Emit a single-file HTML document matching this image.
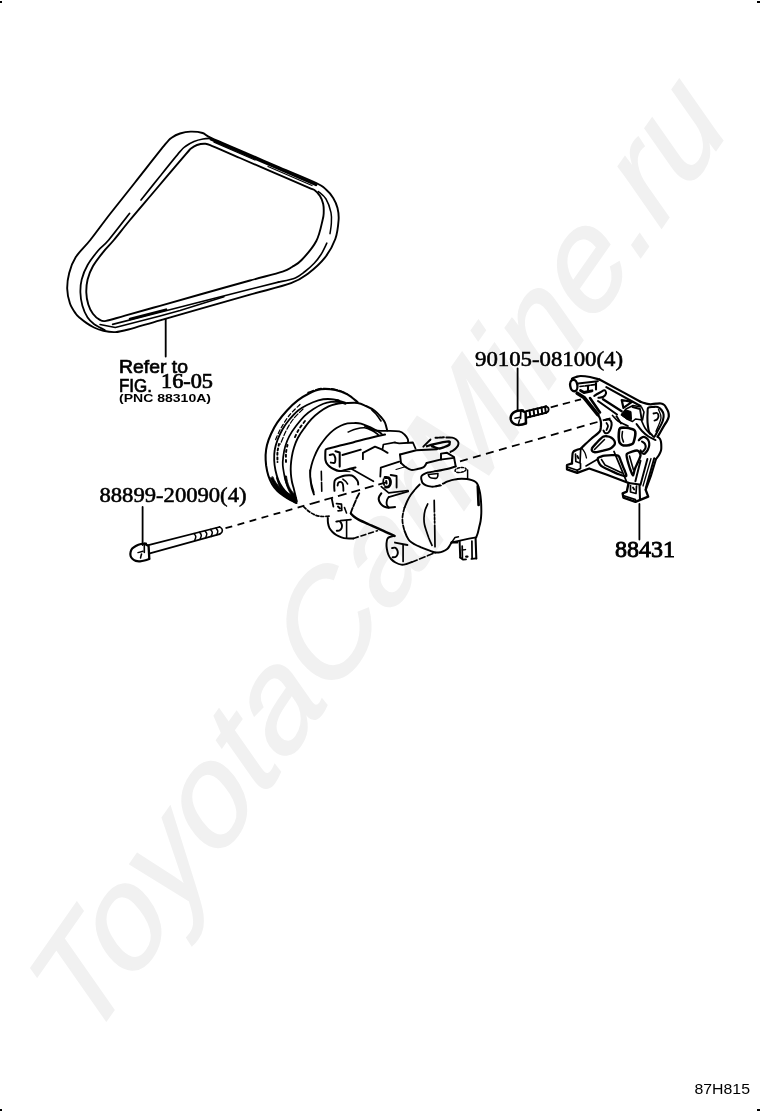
<!DOCTYPE html>
<html>
<head>
<meta charset="utf-8">
<title>87H815</title>
<style>
html,body{margin:0;padding:0;background:#fff;}
body{width:760px;height:1112px;overflow:hidden;position:relative;font-family:"Liberation Sans",sans-serif;}
svg{position:absolute;left:0;top:0;display:block;}
.wm{font-family:"Liberation Sans",sans-serif;font-style:italic;font-size:141.7px;fill:#f1f1f1;stroke:#f1f1f1;stroke-width:1.6px;stroke-linejoin:miter;}
.sans{font-family:"Liberation Sans",sans-serif;fill:#000;}
.serif{font-family:"Liberation Serif",serif;fill:#000;}
.ln{fill:none;stroke:#000;stroke-width:1.3;stroke-linecap:round;stroke-linejoin:round;}
</style>
</head>
<body>
<svg width="760" height="1112" viewBox="0 0 760 1112">
<rect x="0" y="0" width="760" height="1112" fill="#ffffff"/>
<!-- watermark -->
<g id="wm">
<text class="wm" transform="translate(89.5,1044.8) rotate(-55) skewX(-9) scale(1,0.945)" x="0" y="0">ToyotaCarMine.ru</text>
</g>
<!-- labels -->
<g id="labels" style="filter:grayscale(1)">
<text class="sans" x="119" y="373" font-size="19" textLength="69" lengthAdjust="spacingAndGlyphs" stroke="#000" stroke-width="0.7">Refer to</text>
<text class="sans" x="119" y="391.5" font-size="19" textLength="33" lengthAdjust="spacingAndGlyphs" stroke="#000" stroke-width="0.7">FIG.</text>
<text class="serif" x="161" y="388" font-size="20" textLength="52" lengthAdjust="spacingAndGlyphs" stroke="#000" stroke-width="0.7">16-05</text>
<text class="sans" x="119" y="402" font-size="11.5" font-weight="bold" textLength="92" lengthAdjust="spacingAndGlyphs">(PNC 88310A)</text>
<text class="serif" x="475" y="365.5" font-size="20.4" textLength="148" lengthAdjust="spacingAndGlyphs" stroke="#000" stroke-width="0.55">90105-08100(4)</text>
<text class="serif" x="99.5" y="502.3" font-size="20.4" textLength="147" lengthAdjust="spacingAndGlyphs" stroke="#000" stroke-width="0.55">88899-20090(4)</text>
<text class="serif" x="615" y="556.7" font-size="24" textLength="60" lengthAdjust="spacingAndGlyphs" stroke="#000" stroke-width="0.9">88431</text>
<text class="sans" x="694.5" y="1093.8" font-size="15" textLength="55.5" lengthAdjust="spacingAndGlyphs">87H815</text>
</g>
<!-- leaders -->
<g id="leaders" class="ln" style="stroke-width:1.8">
<path d="M517.6 368.5V410"/>
<path d="M142.6 507V545"/>
<path d="M639.4 504V539.5"/>
</g>
<!-- art -->
<g id="art" class="ln">
<!--ART1-->
<path d="M165.3 144.2C171.5 136.7 169.6 139.3 172.0 137.5C174.4 135.7 176.9 134.5 180.0 133.5C183.1 132.5 186.7 131.7 190.5 131.6C194.3 131.5 199.2 131.9 202.6 133.0C206.0 134.1 204.8 135.0 211.0 137.9C217.2 140.8 228.5 145.5 240.0 150.4C251.5 155.3 267.3 162.1 280.0 167.6C292.7 173.1 308.6 179.5 316.3 183.2C324.0 186.8 323.2 187.1 326.0 189.5C328.8 191.9 331.3 194.8 333.2 197.9C335.1 201.0 336.6 204.3 337.5 208.0C338.4 211.7 339.0 214.8 338.6 220.0C338.2 225.2 337.6 232.7 335.3 239.0C333.0 245.3 329.3 252.1 324.7 257.9C320.1 263.7 313.5 269.5 307.9 273.7C302.3 277.9 300.6 279.7 291.0 283.2C281.4 286.7 265.2 290.4 250.0 294.7C234.8 299.0 215.0 304.6 200.0 308.9C185.0 313.2 171.9 316.9 160.0 320.3C148.1 323.7 135.8 327.5 128.4 329.5C121.0 331.5 119.5 331.9 115.3 332.1C111.1 332.3 107.0 331.6 103.4 330.8C99.9 330.0 96.8 328.8 94.0 327.5C91.2 326.2 88.6 324.5 86.3 322.9C84.0 321.3 81.8 319.5 80.0 318.0C78.2 316.5 77.5 316.2 75.8 313.7C74.1 311.2 71.3 307.4 69.9 303.2C68.5 299.0 67.3 293.8 67.2 288.7C67.1 283.6 67.8 278.2 69.2 272.9C70.6 267.6 72.3 262.6 75.8 257.1C79.3 251.6 84.6 247.2 90.3 240.0C96.0 232.8 102.5 223.6 110.0 214.0C117.5 204.4 125.8 194.1 135.0 182.5C144.2 170.9 159.1 151.7 165.3 144.2Z" stroke-width="1.90"/>
<path d="M186.3 153.7C192.3 146.7 189.2 149.9 191.0 148.5C192.8 147.1 194.6 145.8 197.0 145.0C199.4 144.2 202.6 143.6 205.3 143.8C208.0 144.0 207.2 143.9 213.0 146.3C218.8 148.7 229.7 153.5 240.0 158.0C250.3 162.5 263.7 168.3 275.0 173.2C286.3 178.1 301.3 184.5 308.0 187.4C314.7 190.3 313.0 189.1 315.0 190.5C317.0 191.9 318.6 193.8 320.0 196.0C321.4 198.2 322.6 201.2 323.2 204.0C323.8 206.8 323.8 209.9 323.7 212.6C323.6 215.3 323.8 215.3 322.6 220.0C321.4 224.7 319.8 234.3 316.3 241.0C312.8 247.7 305.7 255.7 301.6 260.0C297.6 264.3 295.2 265.1 292.0 267.0C288.8 268.9 289.6 269.4 282.6 271.6C275.6 273.9 263.8 276.7 250.0 280.5C236.2 284.3 215.0 290.3 200.0 294.5C185.0 298.7 172.5 302.3 160.0 305.8C147.5 309.3 134.0 313.1 125.0 315.6C116.0 318.1 110.2 320.2 106.0 320.9C101.8 321.6 101.7 320.8 99.5 319.6C97.3 318.4 94.8 316.2 92.9 313.7C91.0 311.2 89.4 308.0 88.3 304.5C87.2 301.0 86.4 296.8 86.3 292.6C86.2 288.4 86.5 283.9 87.6 279.5C88.7 275.1 90.3 270.9 92.9 266.3C95.5 261.7 99.9 256.2 103.4 251.8C106.9 247.4 109.5 245.3 113.9 240.0C118.3 234.7 123.2 228.2 130.0 220.0C136.8 211.8 145.6 201.6 155.0 190.5C164.4 179.4 180.3 160.7 186.3 153.7Z" stroke-width="1.90"/>
<path d="M141.0 200.0C144.2 196.0 153.5 184.3 160.0 176.2C166.5 168.1 175.7 156.6 180.0 151.6C184.3 146.6 183.7 147.7 186.0 146.0C188.3 144.3 191.2 142.7 194.0 141.5C196.8 140.3 200.2 139.5 203.0 139.0C205.8 138.5 209.7 138.4 211.0 138.3" stroke-width="1.67"/>
<path d="M129.5 213.5C126.0 217.9 113.9 233.8 108.7 240.0C103.5 246.2 101.7 246.3 98.2 250.5C94.7 254.7 90.3 260.2 87.6 265.0C84.8 269.8 82.9 274.9 81.7 279.5C80.5 284.1 80.3 288.2 80.4 292.6C80.5 297.0 81.2 301.6 82.4 305.8C83.6 310.0 85.6 314.5 87.6 317.6C89.6 320.7 91.3 322.1 94.2 324.2C97.1 326.3 103.0 329.0 104.7 330.0" stroke-width="1.78"/>
<path d="M211.0 139.3L316.0 184.8" stroke-width="2.76"/>
<path d="M214.0 142.2L255.0 160.0" stroke-width="1.26"/>
<path d="M268.0 166.5L312.0 185.5" stroke-width="1.26"/>
<path d="M318.4 191.6C319.7 192.8 323.9 195.5 326.0 199.0C328.1 202.5 330.1 208.4 331.0 212.6C331.9 216.8 331.5 220.5 331.3 224.0C331.1 227.5 330.2 232.1 330.0 233.7" stroke-width="1.49"/>
<path d="M326.8 243.2C325.8 245.1 323.1 251.2 321.0 254.5C318.9 257.8 316.9 260.4 314.2 263.2C311.5 266.0 308.1 269.1 305.0 271.5C301.9 273.9 299.7 276.1 295.3 277.9C290.9 279.7 281.2 281.4 278.4 282.1" stroke-width="1.61"/>
<path d="M278.4 282.1L250.0 289.3L200.0 302.0L160.0 312.2L112.6 324.4" stroke-width="1.61"/>
<path d="M224.0 296.7L180.0 310.5L160.0 316.0L115.3 327.5L100.0 324.5" stroke-width="1.49"/>
<path d="M130.0 319.0L166.0 309.6" stroke-width="2.53"/>
<path d="M165.7 319.0L165.7 356.5" stroke-width="1.84"/>
<path d="M146.0 543.6C145.2 543.7 142.7 543.6 141.0 544.0C139.3 544.4 137.3 545.2 135.8 546.0C134.3 546.8 133.1 547.6 132.2 548.6C131.3 549.6 130.9 550.8 130.6 552.0C130.3 553.2 130.3 554.8 130.6 556.0C130.9 557.2 131.7 558.2 132.6 559.0C133.5 559.8 134.6 560.5 135.8 560.9C137.0 561.3 138.6 561.4 140.0 561.3C141.4 561.2 143.0 560.9 144.5 560.5C146.0 560.1 148.4 559.2 149.2 558.9" stroke-width="2.18"/>
<path d="M144.6 543.8L148.6 546.0L149.3 558.8" stroke-width="2.30"/>
<path d="M144.3 544.5L144.3 552.5" stroke-width="1.61"/>
<path d="M138.0 552.6L143.0 551.2" stroke-width="1.49"/>
<path d="M141.5 554.0L140.5 558.0" stroke-width="1.49"/>
<path d="M148.4 545.2L219.5 527.0" stroke-width="1.72"/>
<path d="M149.8 553.4L219.5 534.2" stroke-width="1.72"/>
<path d="M219.5 526.9C219.9 527.2 221.6 528.1 222.0 529.0C222.4 529.9 222.4 531.1 222.0 532.0C221.6 532.9 219.9 533.9 219.5 534.3" stroke-width="1.61"/>
<path d="M194.0 533.6C194.3 534.1 195.7 535.4 195.8 536.6C195.9 537.8 194.8 539.9 194.6 540.6" stroke-width="1.49"/>
<path d="M199.5 532.2C199.8 532.7 201.2 534.1 201.3 535.2C201.4 536.4 200.3 538.6 200.1 539.2" stroke-width="1.49"/>
<path d="M205.0 530.9C205.3 531.4 206.7 532.7 206.8 533.9C206.9 535.0 205.8 537.2 205.6 537.9" stroke-width="1.49"/>
<path d="M210.5 529.5C210.8 530.0 212.2 531.3 212.3 532.5C212.4 533.7 211.3 535.8 211.1 536.5" stroke-width="1.49"/>
<path d="M216.0 528.1C216.3 528.6 217.7 530.0 217.8 531.1C217.9 532.3 216.8 534.5 216.6 535.1" stroke-width="1.49"/>
<path d="M523.0 410.6C522.1 410.6 519.1 410.4 517.5 410.8C515.9 411.2 514.4 411.9 513.3 412.8C512.2 413.7 511.4 414.9 511.0 416.0C510.6 417.1 510.6 418.4 510.8 419.5C511.1 420.6 511.6 421.8 512.5 422.7C513.4 423.6 514.7 424.2 516.0 424.6C517.3 425.0 518.9 425.0 520.5 424.8C522.1 424.6 524.9 423.6 525.8 423.3" stroke-width="2.53"/>
<path d="M521.5 410.3L525.6 412.5L526.0 423.2" stroke-width="2.53"/>
<path d="M520.8 411.5L520.5 418.5" stroke-width="1.72"/>
<path d="M515.0 418.3L520.0 417.3" stroke-width="1.49"/>
<path d="M519.5 420.0L518.5 423.5" stroke-width="1.49"/>
<path d="M526.0 411.2L546.0 406.4" stroke-width="2.07"/>
<path d="M526.0 417.8L546.0 412.8" stroke-width="2.07"/>
<path d="M546.0 406.3C546.4 406.6 547.9 407.2 548.3 408.0C548.7 408.8 548.7 410.2 548.3 411.0C547.9 411.8 546.4 412.6 546.0 412.9" stroke-width="1.84"/>
<path d="M529.5 410.4L530.3 416.7" stroke-width="1.95"/>
<path d="M533.5 409.4L534.3 415.7" stroke-width="1.95"/>
<path d="M537.5 408.4L538.3 414.7" stroke-width="1.95"/>
<path d="M541.5 407.5L542.3 413.8" stroke-width="1.95"/>
<path d="M545.0 406.6L545.8 412.9" stroke-width="1.95"/>
<path d="M225.5 528.2L311.0 503.8" stroke-width="1.78" stroke-dasharray="7 5.5" stroke-linecap="butt"/>
<path d="M311.0 503.8L386.0 482.4" stroke-width="1.78" stroke-dasharray="9 5" stroke-linecap="butt"/>
<path d="M460.0 461.3L616.0 416.7" stroke-width="1.78" stroke-dasharray="8 5.5" stroke-linecap="butt"/>
<path d="M550.7 407.4L581.0 399.3" stroke-width="1.78" stroke-dasharray="7.5 5" stroke-linecap="butt"/>
<!--/ART1-->
<!--ART2-->
<path d="M357.6 402.1C355.9 400.8 351.1 396.4 347.4 394.4C343.7 392.4 339.8 391.0 335.4 390.1C331.0 389.2 325.3 388.7 320.9 389.3C316.5 389.9 312.9 391.6 309.0 393.5C305.1 395.4 301.5 397.6 297.8 400.4C294.1 403.2 290.4 406.8 287.0 410.5C283.6 414.2 279.9 418.7 277.2 422.6C274.5 426.5 272.7 430.3 271.0 434.0C269.3 437.7 267.9 441.4 267.0 444.9C266.1 448.4 265.8 451.6 265.6 455.0C265.5 458.4 265.7 462.0 266.1 465.4C266.6 468.8 267.3 472.4 268.3 475.5C269.3 478.6 270.6 481.6 272.1 484.2C273.6 486.8 275.5 489.0 277.5 491.0C279.5 493.0 281.9 494.7 284.1 496.2C286.3 497.7 288.4 499.1 290.5 500.2C292.6 501.3 295.5 502.5 296.5 503.0" stroke-width="2.07"/>
<path d="M338.8 400.4C337.0 400.2 331.4 399.0 328.0 399.0C324.6 399.0 321.8 399.4 318.3 400.4C314.8 401.4 310.4 403.3 307.0 405.0C303.6 406.7 300.8 408.2 297.8 410.7C294.8 413.2 291.6 416.9 289.0 420.0C286.4 423.1 284.3 426.2 282.4 429.5C280.5 432.8 278.8 436.6 277.5 440.0C276.2 443.4 275.2 446.6 274.7 450.0C274.1 453.4 274.1 457.1 274.2 460.5C274.3 463.9 274.8 467.2 275.5 470.5C276.2 473.8 277.2 477.1 278.3 480.0C279.4 482.9 280.8 485.3 282.4 487.6C284.0 489.9 285.9 492.0 288.0 494.0C290.1 496.0 294.0 498.7 295.2 499.6" stroke-width="1.83"/>
<path d="M340.5 402.1C338.9 402.1 333.9 401.6 331.0 401.9C328.1 402.2 326.3 402.6 323.4 403.8C320.5 405.0 316.6 407.0 313.5 409.0C310.4 411.0 307.5 413.0 304.6 415.8C301.7 418.6 298.6 422.6 296.0 426.0C293.4 429.4 291.0 432.9 289.2 436.3C287.4 439.7 286.2 443.1 285.2 446.5C284.2 449.9 283.6 453.6 283.2 456.8C282.8 460.0 282.6 462.6 282.8 465.5C283.0 468.4 283.6 471.2 284.1 474.0C284.6 476.8 285.1 479.4 286.0 482.0C286.9 484.6 288.1 487.3 289.2 489.3C290.2 491.3 291.2 492.6 292.3 494.0C293.4 495.4 295.4 497.2 296.0 497.9" stroke-width="1.71"/>
<path d="M344.0 403.0C342.7 403.2 338.6 403.4 336.0 404.0C333.4 404.6 331.4 405.1 328.6 406.4C325.9 407.7 322.4 409.9 319.5 412.0C316.6 414.1 314.0 416.4 311.4 419.2C308.8 421.9 306.3 425.4 304.0 428.5C301.7 431.6 299.5 434.8 297.8 438.0C296.1 441.2 295.0 444.4 294.0 447.5C293.0 450.6 292.3 453.8 291.8 456.8C291.3 459.8 291.0 462.6 290.8 465.5C290.6 468.4 290.7 471.4 290.9 474.0C291.1 476.6 291.4 478.7 291.8 481.0C292.2 483.3 292.9 485.3 293.5 487.6C294.1 489.9 294.7 492.7 295.3 495.0C295.9 497.3 296.6 500.2 296.9 501.3" stroke-width="1.83"/>
<path d="M300.0 404.5C298.3 406.2 293.2 410.6 290.0 414.5C286.8 418.4 283.5 423.6 281.0 428.0C278.5 432.4 276.0 438.8 275.0 441.0" stroke-width="1.22" stroke-dasharray="4 2.5"/>
<path d="M303.0 409.0C301.3 410.8 295.8 415.8 293.0 419.5C290.2 423.2 288.1 426.9 286.0 431.0C283.9 435.1 281.4 441.8 280.5 444.0" stroke-width="1.22" stroke-dasharray="5 2"/>
<path d="M279.0 444.0C278.8 445.3 277.8 449.0 277.5 452.0C277.2 455.0 277.5 460.3 277.5 462.0" stroke-width="1.95" stroke-dasharray="2 2.5"/>
<path d="M287.5 445.0C287.2 446.3 286.2 450.2 286.0 453.0C285.8 455.8 286.0 460.5 286.0 462.0" stroke-width="1.95" stroke-dasharray="2 3"/>
<path d="M305.0 421.0C303.9 422.5 300.3 427.0 298.5 430.0C296.7 433.0 294.8 437.5 294.0 439.0" stroke-width="1.83" stroke-dasharray="2.5 3"/>
<path d="M270.5 478 C273 487 279 495 296.5 503.3 L294.5 494 C290 490 287.5 484 286.5 476 L284.5 476 C285.5 484 288 490 291 494.5 C283 491 276 485 273 477Z" fill="#000" stroke-width="0.8"/>
<path d="M277.0 478.0C277.6 479.5 278.7 484.1 280.5 487.0C282.3 489.9 286.8 494.1 288.0 495.5" stroke-width="1.95"/>
<path d="M336.5 400.6L345.0 403.2" stroke-width="2.93"/>
<path d="M345.0 403.2C347.1 403.2 354.1 402.5 357.6 403.0C361.1 403.5 363.1 404.7 366.0 406.0C368.9 407.3 372.2 408.9 374.7 410.7C377.2 412.5 379.3 415.0 381.0 417.0C382.7 419.0 384.0 420.4 385.0 422.6C386.0 424.9 386.8 429.2 387.2 430.5" stroke-width="1.95"/>
<path d="M371.8 410.0C372.5 410.7 374.5 412.2 376.0 414.0C377.5 415.8 380.2 419.8 381.0 421.0" stroke-width="1.59"/>
<path d="M308.0 392.5C310.1 391.9 316.3 389.1 320.9 388.6C325.5 388.1 331.0 388.6 335.4 389.4C339.8 390.2 345.1 392.9 347.0 393.6" stroke-width="1.46" stroke-dasharray="6 2"/>
<path d="M381.6 433.8C380.5 433.1 378.1 431.2 374.7 429.5C371.3 427.8 364.8 424.8 361.0 423.7C357.2 422.6 354.8 423.1 352.0 423.2C349.2 423.3 346.6 423.5 344.0 424.3C341.4 425.1 338.8 426.6 336.5 428.0C334.2 429.4 332.4 430.9 330.3 432.9C328.2 434.9 326.0 437.4 324.0 440.0C322.0 442.6 319.9 445.5 318.3 448.3C316.7 451.1 315.4 454.1 314.2 457.0C313.0 459.9 312.1 462.7 311.4 465.4C310.7 468.1 310.3 470.4 310.2 473.0C310.1 475.6 310.3 478.3 310.6 480.8C310.9 483.3 311.2 485.7 311.8 488.0C312.4 490.3 313.6 493.4 314.0 494.5" stroke-width="1.83"/>
<path d="M348.2 432.0C349.5 431.5 353.3 429.7 356.0 429.0C358.7 428.3 361.8 427.6 364.5 427.8C367.2 428.1 369.7 429.4 372.0 430.5C374.3 431.6 377.2 433.9 378.2 434.6" stroke-width="1.59"/>
<path d="M309.8 470.0C310.0 471.8 310.3 477.3 311.0 481.0C311.7 484.7 313.5 490.3 314.0 492.2" stroke-width="1.22"/>
<path d="M385.0 434.6C382.7 435.1 376.4 436.5 371.0 437.8C365.6 439.1 358.1 441.1 352.9 442.4C347.7 443.7 344.2 444.6 340.0 445.6C335.8 446.7 330.0 448.0 327.6 448.7C325.2 449.4 326.2 449.2 325.8 449.7C325.4 450.2 325.5 450.4 325.4 451.5C325.3 452.6 325.3 454.5 325.3 456.0C325.3 457.5 325.2 459.0 325.5 460.3C325.8 461.6 326.3 462.8 327.0 463.8C327.7 464.9 328.6 465.7 329.7 466.6C330.8 467.5 332.1 468.3 333.5 469.0C334.9 469.7 336.7 470.5 338.2 470.8C339.7 471.1 341.1 471.0 342.5 470.8C343.9 470.6 344.4 470.2 346.6 469.7C348.8 469.2 354.0 468.0 355.5 467.6" stroke-width="2.07"/>
<path d="M329.7 455.0C330.3 454.9 332.5 454.0 333.4 454.4C334.3 454.8 334.9 456.6 335.2 457.6C335.5 458.6 335.4 459.6 335.3 460.5C335.2 461.4 335.2 462.5 334.5 462.9C333.8 463.2 331.4 462.7 330.8 462.6" stroke-width="1.95"/>
<path d="M335.5 451.3L339.7 452.4L339.7 466.6" stroke-width="2.07"/>
<path d="M342.4 455.0L360.8 449.7" stroke-width="1.83"/>
<path d="M351.3 468.7L373.4 481.3" stroke-width="1.71"/>
<path d="M336.3 470.8L350.0 471.7" stroke-width="0.98"/>
<path d="M362.9 459.2L362.9 452.9L375.0 446.6L382.4 449.7L387.6 452.9" stroke-width="1.83"/>
<path d="M382.4 449.7L383.4 444.5L395.0 442.4" stroke-width="1.71"/>
<path d="M365.0 426.2C366.7 426.9 371.6 429.7 375.3 430.5C379.0 431.3 383.2 430.7 387.2 430.8C391.2 430.9 396.3 430.8 399.2 431.4C402.1 432.0 403.1 433.2 404.5 434.5C405.9 435.8 407.2 437.8 407.8 439.1C408.4 440.4 408.0 441.9 408.0 442.5" stroke-width="1.83"/>
<path d="M395.0 442.6L399.2 443.4L412.9 442.5L415.5 448.5" stroke-width="1.83"/>
<path d="M401.0 463.0C400.8 461.6 400.2 455.9 400.0 454.5" stroke-width="1.95"/>
<path d="M400.0 454.5L416.3 450.2L437.0 449.2" stroke-width="1.95"/>
<path d="M401.0 463.0C401.8 463.7 403.8 465.9 405.5 467.0C407.2 468.1 409.2 469.6 411.2 469.9C413.2 470.2 415.5 469.4 417.5 469.0C419.5 468.6 421.9 468.0 423.2 467.3C424.5 466.6 424.9 465.7 425.5 465.0C426.1 464.3 426.4 463.3 426.6 463.0" stroke-width="1.95"/>
<path d="M426.6 463.0L440.3 459.6L454.0 457.9" stroke-width="1.83"/>
<path d="M441.0 459.5L441.0 453.6L447.1 452.8L454.0 457.0L455.7 466.4" stroke-width="1.95"/>
<path d="M423.3 446.7L430.5 439.5" stroke-width="1.83"/>
<path d="M446.3 437.5C447.3 437.5 450.6 437.3 452.2 437.6C453.8 437.9 455.2 438.7 456.2 439.5C457.2 440.3 458.1 441.4 458.4 442.5C458.7 443.6 458.3 444.8 457.9 445.8C457.4 446.8 456.5 447.7 455.7 448.5C454.9 449.3 454.2 449.8 453.3 450.4C452.4 451.0 451.0 451.6 450.5 451.9" stroke-width="1.95"/>
<path d="M427.0 446.2C428.0 445.9 430.7 444.9 433.0 444.3C435.3 443.7 438.3 443.1 441.0 442.6C443.7 442.1 447.6 441.2 449.0 441.3C450.4 441.4 449.6 442.6 449.6 443.2C449.6 443.8 449.9 444.4 449.0 445.0C448.1 445.6 446.1 446.4 444.5 447.0C442.9 447.6 441.2 448.4 439.7 448.5C438.2 448.6 436.8 448.0 435.5 447.6C434.2 447.2 432.6 446.5 432.0 446.3" stroke-width="2.32"/>
<path d="M435.5 437.8L444.5 437.3" stroke-width="1.95" stroke-dasharray="2 1.2"/>
<path d="M380.3 476.5L380.8 467.6L399.2 461.6" stroke-width="1.83"/>
<path d="M396.0 469.5L406.0 466.5" stroke-width="1.10"/>
<path d="M385.0 477.5C385.6 477.6 387.6 477.3 388.5 477.8C389.4 478.3 390.0 479.5 390.3 480.5C390.6 481.5 390.6 482.9 390.3 484.0C390.0 485.1 389.3 486.3 388.5 486.8C387.7 487.3 386.0 487.0 385.5 487.0" stroke-width="2.81"/>
<path d="M383.6 479.0C383.5 479.5 383.1 481.0 383.2 482.0C383.3 483.0 384.0 484.5 384.2 485.0" stroke-width="1.71"/>
<path d="M386.2 481.0L386.6 483.5" stroke-width="1.95"/>
<path d="M390.7 475.0L396.6 476.0L396.6 487.5" stroke-width="1.83"/>
<path d="M381.3 486.6L388.7 492.9L408.0 490.5" stroke-width="1.71"/>
<path d="M334.5 490.8C334.4 490.0 334.2 487.6 334.2 486.0C334.2 484.4 334.3 482.4 334.5 481.3C334.7 480.2 335.1 480.0 335.6 479.5C336.1 479.0 336.6 478.7 337.6 478.2C338.6 477.7 340.2 476.9 341.5 476.5C342.8 476.1 343.8 475.7 345.5 475.5C347.2 475.3 350.2 475.1 351.8 475.5C353.4 475.9 353.9 476.8 354.8 477.6C355.7 478.4 356.6 479.5 357.1 480.3C357.6 481.1 357.8 481.6 358.0 482.3C358.2 483.0 358.2 484.1 358.2 484.5" stroke-width="1.95"/>
<path d="M337.6 485.5C337.7 485.1 337.9 483.4 338.3 482.8C338.8 482.2 339.7 481.8 340.3 481.8C340.9 481.8 341.8 482.4 342.2 482.8C342.6 483.2 342.7 483.7 342.9 484.5C343.1 485.3 343.2 486.4 343.3 487.5C343.4 488.6 343.4 490.2 343.4 490.8" stroke-width="1.83"/>
<path d="M342.9 479.2C343.3 479.5 344.8 480.4 345.6 481.2C346.4 482.0 347.3 483.5 347.6 484.0" stroke-width="1.59"/>
<path d="M321.3 471.3L321.8 492.9" stroke-width="1.59" stroke-dasharray="9 2"/>
<path d="M381.3 493.4C381.0 493.9 379.7 495.3 379.3 496.3C378.9 497.3 378.6 498.1 378.7 499.2C378.8 500.3 379.4 501.8 380.0 502.8C380.6 503.9 381.5 504.8 382.4 505.5C383.3 506.2 384.2 506.6 385.3 507.0C386.4 507.4 387.1 507.6 388.7 507.6C390.3 507.6 393.9 507.1 395.0 507.0" stroke-width="2.07"/>
<path d="M388.7 507.6C388.4 507.2 387.2 505.9 386.9 505.0C386.5 504.1 386.6 503.3 386.6 502.4C386.7 501.5 386.9 500.4 387.2 499.5C387.5 498.6 388.4 497.5 388.7 497.1" stroke-width="1.83"/>
<path d="M388.7 497.1L408.2 491.4" stroke-width="1.71"/>
<path d="M303.8 506.8C304.7 507.6 307.0 510.1 309.0 511.5C311.0 512.9 313.6 514.5 315.8 515.3C318.1 516.1 320.2 516.4 322.5 516.5C324.8 516.6 328.3 516.2 329.5 516.2" stroke-width="1.71" stroke-dasharray="3 2"/>
<path d="M331.8 498.7L333.4 506.6" stroke-width="1.83"/>
<path d="M336.5 503.6L341.5 504.2L341.8 510.5L338.0 510.8" stroke-width="1.71"/>
<path d="M338.0 506.5L340.0 508.5" stroke-width="1.95"/>
<path d="M344.5 507.6L346.5 513.0" stroke-width="1.59"/>
<path d="M359.2 493.4C358.8 494.2 357.5 496.5 356.8 498.0C356.1 499.5 355.7 500.8 355.0 502.4C354.3 504.0 353.5 505.8 352.8 507.5C352.1 509.2 351.1 512.0 350.8 512.9" stroke-width="1.83" stroke-dasharray="6 2"/>
<path d="M327.8 517.9C327.8 518.8 327.7 521.3 328.0 523.0C328.3 524.7 328.8 526.7 329.5 528.2C330.2 529.7 331.4 530.9 332.5 532.0C333.6 533.1 334.8 534.1 336.3 535.0C337.8 535.9 339.8 536.7 341.5 537.3C343.2 537.9 344.6 538.2 346.6 538.4C348.6 538.6 352.3 538.4 353.4 538.4" stroke-width="1.95"/>
<path d="M353.4 538.4L377.4 530.7" stroke-width="1.59" stroke-dasharray="5 3"/>
<path d="M336.3 521.6C336.9 521.5 338.9 520.8 339.8 521.3C340.7 521.8 341.5 523.4 341.8 524.5C342.1 525.6 342.1 527.0 341.7 528.0C341.3 529.0 340.3 530.0 339.5 530.5C338.7 531.0 337.2 530.7 336.8 530.7" stroke-width="1.95"/>
<path d="M340.5 520.6L351.0 519.6" stroke-width="1.59"/>
<path d="M346.6 520.5L346.6 537.8" stroke-width="1.59"/>
<path d="M350.9 513.6C351.5 514.2 353.2 516.0 354.5 517.0C355.8 518.0 356.4 518.4 358.6 519.6C360.9 520.8 364.9 522.6 368.0 524.0C371.1 525.4 374.4 526.8 377.4 528.2C380.4 529.6 383.1 530.9 386.0 532.2C388.9 533.5 393.1 535.3 394.5 535.9" stroke-width="2.44"/>
<path d="M394.5 535.9C393.8 536.0 391.6 536.4 390.5 536.8C389.4 537.2 388.3 537.3 387.6 538.4C386.9 539.5 386.6 541.8 386.5 543.5C386.4 545.2 386.5 546.9 386.8 548.7C387.1 550.5 387.6 552.8 388.3 554.5C389.0 556.2 389.8 557.7 391.0 559.0C392.2 560.3 393.8 561.6 395.5 562.5C397.2 563.4 399.5 564.4 401.3 564.6C403.1 564.9 404.8 564.4 406.5 564.0C408.2 563.6 410.8 562.5 411.6 562.2" stroke-width="1.95"/>
<path d="M411.6 562.2L435.7 552.5" stroke-width="1.59" stroke-dasharray="6 2.5"/>
<path d="M392.0 548.1C392.6 548.0 394.6 547.3 395.5 547.8C396.4 548.3 397.3 549.9 397.6 551.0C397.9 552.1 397.9 553.5 397.5 554.5C397.1 555.5 396.3 556.5 395.5 557.0C394.7 557.5 393.1 557.2 392.6 557.3" stroke-width="1.95"/>
<path d="M395.0 542.6L407.4 545.0" stroke-width="1.95"/>
<path d="M403.1 545.0L403.1 561.4" stroke-width="1.71"/>
<path d="M442.9 483.7C443.6 483.4 445.6 482.3 447.0 481.7C448.4 481.1 450.0 480.5 451.6 480.1C453.2 479.7 454.8 479.4 456.5 479.2C458.2 479.0 459.9 478.7 461.7 478.7C463.4 478.7 465.3 478.8 467.0 479.0C468.7 479.2 470.4 479.6 471.8 480.1C473.2 480.6 474.3 481.1 475.3 481.8C476.3 482.5 476.9 483.1 477.6 484.5C478.3 485.9 478.9 488.1 479.4 490.0C479.9 491.9 480.2 493.6 480.5 496.0C480.8 498.4 481.1 501.6 481.2 504.5C481.3 507.4 481.4 510.6 481.3 513.4C481.2 516.1 481.0 518.6 480.6 521.0C480.2 523.4 479.5 525.9 479.0 527.9C478.5 529.9 478.3 531.4 477.8 533.0C477.3 534.6 476.5 536.6 476.2 537.3" stroke-width="1.95"/>
<path d="M477.8 486.0L478.6 505.0" stroke-width="2.68"/>
<path d="M476.2 537.3L469.0 538.7L458.8 540.9L451.6 542.4" stroke-width="1.83"/>
<path d="M451.6 542.4C451.2 543.0 450.2 544.9 449.5 546.0C448.8 547.1 448.3 548.0 447.2 548.9C446.1 549.8 444.4 550.7 443.0 551.3C441.6 551.9 439.9 552.3 438.6 552.5C437.4 552.7 436.5 552.6 435.5 552.5C434.5 552.4 433.2 551.9 432.8 551.8" stroke-width="1.95"/>
<path d="M419.7 484.5C418.9 485.3 416.4 487.8 415.0 489.5C413.6 491.2 412.3 492.7 411.0 494.6C409.7 496.5 408.4 498.8 407.3 501.0C406.2 503.2 405.0 506.5 404.5 507.6" stroke-width="1.83"/>
<path d="M404.5 507.6C404.2 508.6 403.4 511.6 403.0 513.5C402.6 515.4 402.4 517.3 402.4 519.2C402.4 521.1 402.6 523.1 403.0 525.0C403.4 526.9 404.2 529.8 404.5 530.8" stroke-width="1.71" stroke-dasharray="4 2"/>
<path d="M404.5 530.8C404.9 531.7 405.8 534.3 406.6 536.0C407.5 537.7 408.2 539.5 409.6 540.9C411.0 542.3 413.1 543.4 415.0 544.5C416.9 545.6 419.2 546.5 421.2 547.4C423.2 548.2 425.1 548.9 427.0 549.6C428.9 550.3 431.8 551.4 432.8 551.8" stroke-width="1.95"/>
<path d="M455.7 466.4C454.3 466.8 450.8 468.1 447.1 469.0C443.4 469.9 436.6 471.0 433.4 471.6C430.2 472.2 429.6 472.1 428.0 472.5C426.4 472.9 425.1 473.5 424.0 474.1C422.9 474.7 422.1 475.3 421.6 476.0C421.1 476.7 421.2 477.6 421.2 478.4C421.2 479.2 421.6 480.2 421.8 481.0C422.0 481.8 421.9 482.3 422.6 483.0C423.3 483.7 424.6 484.7 426.0 485.3C427.4 485.9 429.6 486.4 431.3 486.6C433.0 486.8 434.6 486.5 436.0 486.3C437.4 486.1 439.3 485.4 440.0 485.2" stroke-width="1.95"/>
<path d="M436.0 486.3L441.0 485.5" stroke-width="1.71" stroke-dasharray="2 1.5"/>
<path d="M428.4 474.8C428.5 475.1 428.8 476.3 429.3 476.8C429.8 477.3 430.1 477.8 431.3 478.0C432.5 478.2 435.4 478.5 436.5 478.2C437.6 477.9 437.6 476.6 437.8 476.0C438.0 475.4 437.8 474.6 437.8 474.3" stroke-width="1.59"/>
<path d="M428.4 474.5L438.0 473.5" stroke-width="1.46"/>
<ellipse cx="460.6" cy="470" rx="5.6" ry="2.4" stroke-width="1.46" transform="rotate(-8 460.6 470)" stroke-dasharray="2.5 1.5"/>
<path d="M467.6 470.0L467.6 478.6" stroke-width="1.46"/>
<path d="M427.7 504.0C427.2 505.1 425.6 508.2 425.0 510.5C424.4 512.8 424.1 515.5 424.0 517.8C423.9 520.1 424.1 522.3 424.5 524.5C424.9 526.7 425.6 528.5 426.3 530.8C427.0 533.0 427.9 535.6 428.8 538.0C429.8 540.4 431.5 544.1 432.0 545.3" stroke-width="1.71"/>
<path d="M434.2 500.4L434.4 512.0" stroke-width="1.71"/>
<path d="M434.5 514.0L434.7 524.0" stroke-width="1.71" stroke-dasharray="2 1.5"/>
<path d="M434.7 525.0L435.0 546.7" stroke-width="1.71"/>
<path d="M451.6 542.4L457.4 542.4" stroke-width="1.95"/>
<path d="M451.6 542.4L455.0 537.5L458.5 536.8" stroke-width="1.46"/>
<path d="M459.6 541.0L460.2 557.5" stroke-width="1.95"/>
<path d="M462.2 546.0L462.4 558.5" stroke-width="1.71"/>
<path d="M471.9 541.0L472.1 558.3" stroke-width="1.71"/>
<path d="M475.6 538.7L476.3 558.5" stroke-width="2.07"/>
<path d="M460.2 557.5L463.2 559.7L466.0 559.4" stroke-width="1.83"/>
<path d="M471.5 558.8L476.3 558.4" stroke-width="1.83"/>
<path d="M466.3 556.6L467.3 556.6" stroke-width="2.44"/>
<path d="M462.3 550.0L465.5 549.6" stroke-width="1.46"/>
<!--/ART2-->
<!--ART3-->
<ellipse cx="573.8" cy="385.5" rx="3.6" ry="5.8" stroke-width="2.34" transform="rotate(-8 573.8 385.5)"/>
<path d="M572.0 378.7C572.7 378.4 574.5 377.4 576.0 377.0C577.5 376.6 578.4 376.0 580.7 376.0C583.0 376.0 586.9 376.4 590.0 377.0C593.1 377.6 597.9 379.1 599.5 379.5" stroke-width="2.21"/>
<path d="M599.5 379.5L623.4 392.4L640.5 401.8" stroke-width="2.21"/>
<path d="M640.5 401.8C641.3 402.1 643.8 403.0 645.5 403.4C647.2 403.8 649.0 404.3 650.8 404.3C652.5 404.3 654.3 403.7 656.0 403.6C657.7 403.5 659.6 403.3 661.0 403.5C662.4 403.7 663.4 404.3 664.3 405.0C665.2 405.7 665.5 406.6 666.2 407.8C666.9 409.0 667.9 410.6 668.3 412.0C668.7 413.4 669.0 414.8 668.8 416.3C668.6 417.8 667.7 419.6 667.0 421.0C666.3 422.4 665.5 423.2 664.5 424.9C663.5 426.6 662.1 429.0 661.0 431.0C659.9 433.0 658.2 435.8 657.6 436.8" stroke-width="2.21"/>
<path d="M657.6 436.8C658.0 437.2 659.4 438.1 660.0 439.0C660.6 439.9 660.8 440.8 661.0 442.0C661.2 443.2 661.3 445.1 661.3 446.5C661.3 447.9 661.4 449.1 661.0 450.5C660.6 451.9 659.8 453.6 659.0 455.0C658.2 456.4 656.5 458.3 656.0 459.0" stroke-width="2.08"/>
<path d="M656.0 459.0L650.8 476.2L645.7 489.9" stroke-width="2.08"/>
<path d="M645.7 489.9L648.2 496.7L635.4 501.8L623.4 497.6L622.6 493.3L626.8 491.6L628.6 483.0" stroke-width="2.34"/>
<path d="M623.0 495.5L635.4 499.6L635.8 501.5" stroke-width="1.82"/>
<path d="M628.6 483.0L639.5 484.5L640.0 499.5" stroke-width="2.08"/>
<path d="M630.5 485.5L630.5 492.0L636.0 493.5L636.5 486.0" stroke-width="1.69"/>
<path d="M633.0 487.5L634.2 489.5" stroke-width="1.82"/>
<path d="M628.6 483.0L606.3 474.5L589.2 468.5L577.2 472.8L567.0 469.3L567.0 465.0L572.0 463.4" stroke-width="2.34"/>
<path d="M567.5 467.0L577.2 470.3L577.4 472.5" stroke-width="1.69"/>
<path d="M572.0 463.4C572.0 462.4 572.1 459.4 572.3 457.5C572.5 455.6 572.3 453.4 573.0 452.2C573.7 450.9 575.2 450.6 576.5 450.0C577.8 449.4 580.0 449.0 580.7 448.8" stroke-width="2.21"/>
<path d="M575.5 454.0L575.8 461.5L580.0 463.0L580.7 449.2" stroke-width="1.69"/>
<path d="M577.3 456.0L578.5 458.3" stroke-width="1.82"/>
<path d="M580.5 463.5L580.5 468.5L577.2 470.3" stroke-width="1.69"/>
<path d="M581.5 447.5C582.1 448.4 584.2 451.2 585.0 453.0C585.8 454.8 586.2 457.2 586.5 458.0" stroke-width="1.30"/>
<path d="M580.7 448.8C581.0 448.5 580.7 448.6 582.4 447.0C584.1 445.4 588.1 441.6 591.0 439.0C593.9 436.4 597.9 433.6 599.5 431.7C601.1 429.8 600.5 428.9 600.8 427.5C601.0 426.1 601.1 424.5 601.0 423.0C600.9 421.5 600.5 419.9 600.0 418.5C599.5 417.1 598.2 415.2 597.8 414.6" stroke-width="2.21"/>
<path d="M597.8 414.6L584.0 397.5L577.2 393.2" stroke-width="3.64"/>
<path d="M590.0 398.0L600.0 412.5" stroke-width="2.60"/>
<path d="M578.0 383.5L597.8 381.2" stroke-width="2.08"/>
<path d="M580.0 386.5L596.0 384.5" stroke-width="1.69" stroke-dasharray="4 1.5"/>
<path d="M580.5 390.5L584.0 392.5L592.0 390.8" stroke-width="2.86"/>
<path d="M588.0 386.0L588.0 391.0" stroke-width="2.08"/>
<path d="M596.0 383.0L596.0 389.5" stroke-width="2.08"/>
<path d="M594.3 395.8C595.2 395.2 598.3 393.4 600.0 392.5C601.7 391.6 603.5 390.1 604.5 390.3C605.5 390.5 606.2 392.4 606.0 393.5C605.8 394.6 604.2 396.3 603.0 397.0C601.8 397.7 599.2 397.7 598.5 397.8" stroke-width="2.08"/>
<path d="M606.3 387.2L640.5 406.0" stroke-width="2.08"/>
<path d="M603.0 399.2L621.7 411.2" stroke-width="2.34"/>
<path d="M598.0 401.0L617.0 414.5" stroke-width="2.08"/>
<path d="M621.7 400.0L632.0 401.8L623.4 407.8Z" stroke-width="2.21"/>
<path d="M621.5 414.5 L626 409 L633 405.5 L641.5 407 L644 412 L642.5 420 L635.5 419 L632.5 421.5 L627 419 Z" fill="#fff" stroke-width="1.6"/>
<path d="M621.5 415 L626 410 L631 411.5 L631.5 419.5 L627 419 Z" fill="#000" stroke-width="1"/>
<path d="M632.5 407.0L640.0 409.0L641.5 418.5" stroke-width="1.82"/>
<path d="M648.2 407.8C649.1 406.9 651.4 407.1 653.0 407.0C654.6 406.9 656.2 406.5 657.6 407.0C659.0 407.5 660.5 408.7 661.5 410.0C662.5 411.3 663.4 412.9 663.6 414.6C663.9 416.3 663.4 418.3 663.0 420.0C662.6 421.7 661.9 423.1 661.0 424.9C660.1 426.7 658.7 429.0 657.6 431.0C656.5 433.0 655.2 436.2 654.2 436.8C653.2 437.4 652.4 435.4 651.5 434.5C650.6 433.6 649.6 433.3 649.0 431.7C648.4 430.1 648.1 427.3 647.8 425.0C647.5 422.7 647.4 420.1 647.4 418.0C647.4 415.9 647.5 414.2 647.6 412.5C647.7 410.8 647.3 408.7 648.2 407.8Z" stroke-width="2.08"/>
<path d="M653.5 413.5C654.1 413.4 656.2 412.6 657.0 413.0C657.8 413.4 658.5 414.9 658.5 416.0C658.5 417.1 657.7 418.8 657.0 419.5C656.3 420.2 654.9 420.3 654.5 420.5" stroke-width="1.82"/>
<path d="M658.5 409.5C658.9 410.9 661.4 414.3 661.0 418.0C660.6 421.7 656.8 429.2 656.0 431.5" stroke-width="1.30"/>
<path d="M620.0 428.3C621.2 427.3 624.0 427.7 626.0 427.8C628.0 427.9 630.5 428.6 632.0 429.0C633.5 429.4 634.1 429.8 634.7 430.5C635.3 431.2 635.4 432.0 635.4 433.4C635.4 434.8 634.9 437.3 634.5 439.0C634.1 440.7 633.8 442.7 632.8 443.7C631.8 444.7 630.1 444.9 628.5 445.2C626.9 445.5 624.8 445.7 623.4 445.4C622.0 445.1 621.0 444.4 620.3 443.5C619.6 442.6 619.2 441.9 619.0 440.3C618.8 438.7 618.6 436.0 618.8 434.0C619.0 432.0 618.8 429.3 620.0 428.3Z" stroke-width="2.60"/>
<path d="M622.5 431.5C622.4 432.4 621.8 435.2 622.0 437.0C622.2 438.8 623.2 441.2 623.5 442.0" stroke-width="1.56"/>
<path d="M605.5 420.0C606.1 419.9 608.0 419.1 609.0 419.5C610.0 419.9 611.2 421.1 611.5 422.5C611.8 423.9 611.5 426.3 611.0 428.0C610.5 429.7 609.5 431.7 608.5 432.5C607.5 433.3 605.8 433.3 605.0 433.0C604.2 432.7 603.8 430.9 603.5 430.5" stroke-width="2.08"/>
<path d="M606.5 423.0C606.8 423.5 608.0 424.8 608.0 426.0C608.0 427.2 606.8 429.3 606.5 430.0" stroke-width="1.82"/>
<path d="M591.8 448.8C592.2 447.2 595.1 444.5 597.0 442.5C598.9 440.5 601.2 437.8 603.0 436.8C604.8 435.8 606.1 436.2 607.5 436.3C608.9 436.4 610.3 437.0 611.4 437.7C612.5 438.4 613.6 439.5 614.2 440.5C614.8 441.5 615.1 442.7 614.9 443.7C614.7 444.7 613.7 445.8 612.8 446.7C611.9 447.6 611.5 448.1 609.7 448.8C607.9 449.5 604.6 450.2 602.0 450.8C599.4 451.4 596.0 452.5 594.3 452.2C592.6 451.9 591.3 450.4 591.8 448.8Z" stroke-width="2.34"/>
<path d="M594.5 449.5L604.5 439.5" stroke-width="1.56"/>
<path d="M597.8 458.2C598.2 457.3 599.9 457.0 601.0 456.6C602.1 456.2 602.9 455.9 604.6 455.7C606.4 455.5 609.2 455.2 611.5 455.2C613.8 455.2 616.7 454.6 618.3 455.7C619.9 456.8 620.1 459.5 621.0 461.5C621.9 463.5 622.7 465.9 623.4 467.6C624.1 469.4 624.8 470.6 625.2 472.0C625.6 473.4 627.0 475.8 626.0 476.2C625.0 476.6 621.6 475.2 619.5 474.5C617.4 473.8 615.3 472.8 613.2 471.9C611.1 471.0 609.0 470.0 607.0 469.0C605.0 468.0 602.6 467.1 601.2 465.9C599.8 464.7 599.2 463.3 598.6 462.0C598.0 460.7 597.4 459.1 597.8 458.2Z" stroke-width="2.34"/>
<path d="M601.5 459.5L605.0 465.0L622.0 473.0" stroke-width="1.56"/>
<path d="M626.8 454.0C627.6 452.8 630.3 452.3 632.0 451.7C633.7 451.1 635.8 450.4 637.1 450.5C638.4 450.6 639.0 451.6 639.6 452.5C640.2 453.4 640.7 454.2 640.5 455.7C640.3 457.2 639.1 459.5 638.2 461.5C637.4 463.5 636.1 465.9 635.4 467.6C634.7 469.3 634.6 470.2 634.2 471.5C633.8 472.8 633.4 475.6 632.8 475.3C632.2 475.1 631.2 471.9 630.5 470.0C629.8 468.1 629.1 466.0 628.6 464.2C628.1 462.4 627.5 460.7 627.2 459.0C626.9 457.3 626.0 455.2 626.8 454.0Z" stroke-width="2.34"/>
<path d="M629.5 456.0L633.5 470.0" stroke-width="1.56"/>
<path d="M638.8 440.3C639.2 439.9 640.1 438.6 641.0 438.0C641.9 437.4 643.0 436.7 644.0 436.8C645.0 436.9 646.4 437.9 647.2 438.8C648.0 439.7 648.7 440.9 649.0 442.0C649.3 443.1 649.3 444.4 649.2 445.5C649.1 446.6 648.7 447.8 648.2 448.8C647.8 449.9 647.2 450.9 646.5 451.8C645.8 452.7 644.8 453.9 644.0 454.0C643.2 454.1 642.1 453.1 641.5 452.5C640.9 451.9 640.8 450.8 640.6 450.5" stroke-width="2.21"/>
<path d="M642.0 441.5C642.5 441.9 644.4 442.9 645.0 444.0C645.6 445.1 645.8 446.8 645.5 448.0C645.2 449.2 643.4 450.9 643.0 451.5" stroke-width="2.08"/>
<path d="M640.5 460.8L635.4 481.3" stroke-width="1.95"/>
<path d="M647.4 459.0L640.5 484.8" stroke-width="1.95"/>
<path d="M654.2 458.2L645.7 488.2" stroke-width="1.95"/>
<path d="M651.0 458.5L643.0 486.0" stroke-width="1.30"/>
<path d="M616.6 416.3L621.0 423.5" stroke-width="1.82"/>
<path d="M612.5 415.5C613.4 416.4 615.4 419.2 618.0 421.0C620.6 422.8 626.3 425.2 628.0 426.0" stroke-width="1.69"/>
<path d="M636.5 424.0C637.4 425.2 640.0 428.9 642.0 431.0C644.0 433.1 646.2 435.0 648.5 436.5C650.8 438.0 654.3 439.4 655.5 440.0" stroke-width="1.95"/>
<path d="M641.5 420.5C642.1 421.8 643.6 425.8 645.0 428.0C646.4 430.2 649.2 433.0 650.0 434.0" stroke-width="1.69"/>
<path d="M614.0 451.5L626.5 481.5" stroke-width="1.82"/>
<path d="M586.0 466.0L598.0 459.0" stroke-width="1.56"/>
<!--/ART3-->
</g>
<rect x="757" y="1109" width="3" height="2" fill="#000"/>
<rect x="0" y="1109" width="2" height="2" fill="#000"/>
<rect x="0" y="1" width="2" height="2" fill="#000"/>
<rect x="757" y="1" width="3" height="2" fill="#000"/>
</svg>
</body>
</html>
